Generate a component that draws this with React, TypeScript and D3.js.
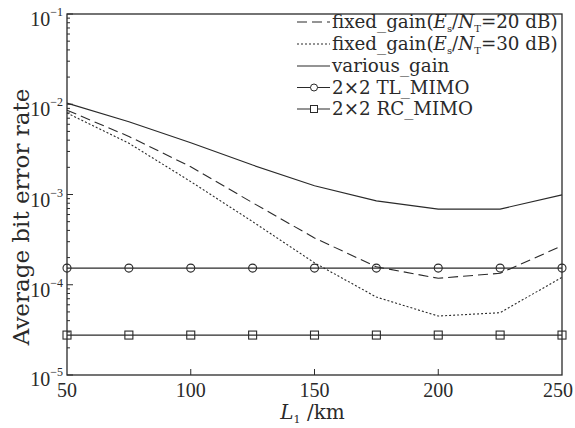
import React from "react";
import * as d3 from "d3";

const xValues = [50, 75, 100, 125, 150, 175, 200, 225, 250];
const fixed20 = [0.0086, 0.0044, 0.00203, 0.00081, 0.00033, 0.000158, 0.000118, 0.000134, 0.00027];
const fixed30 = [0.0080, 0.0037, 0.00139, 0.00050, 0.000175, 0.000073, 0.000045, 0.000049, 0.000121];
const various = [0.0103, 0.0064, 0.00375, 0.00212, 0.00125, 0.00085, 0.00069, 0.00069, 0.00099];
const tlMimo = [1.53e-4, 1.53e-4, 1.53e-4, 1.53e-4, 1.53e-4, 1.53e-4, 1.53e-4, 1.53e-4, 1.53e-4];
const rcMimo = [2.77e-5, 2.77e-5, 2.77e-5, 2.77e-5, 2.77e-5, 2.77e-5, 2.77e-5, 2.77e-5, 2.77e-5];
const xTicks = [50, 100, 150, 200, 250];
const yExps = [-1, -2, -3, -4, -5];

const W = 575, H = 428;
const M = { left: 67, right: 13, top: 14, bottom: 53 };
const FONT = "'Liberation Serif', 'DejaVu Serif', serif";
const FONT2 = "'DejaVu Serif', serif";
const INK = "#2a2a2a";

export default function App() {
  const x = d3.scaleLinear().domain([50, 250]).range([M.left, W - M.right]);
  const y = d3.scaleLog().domain([1e-5, 1e-1]).range([H - M.bottom, M.top]);
  const line = d3.line<number>().x((_, i) => x(xValues[i])).y((d) => y(d));

  const minor: number[] = [];
  for (let e = -5; e < -1; e++) for (let k = 2; k <= 9; k++) minor.push(k * Math.pow(10, e));

  const legendX = 297;
  const legendRows = [22, 44, 66, 87.5, 109];
  const legend = [
    { label: "fixed", dash: "10,5" },
    { label: "fixed30", dash: "2,2" },
    { label: "various_gain", dash: null },
    { label: "2×2 TL_MIMO", dash: null, marker: "circle" },
    { label: "2×2 RC_MIMO", dash: null, marker: "square" },
  ];
  const LFS = 18.3;

  return (
    <svg width={W} height={H} style={{ display: "block", position: "absolute", left: 0, top: 0, background: "#fff" }}>
      <rect x={0} y={0} width={W} height={H} fill="#fff" />
      {minor.map((v, i) => (
        <line key={"mn" + i} x1={x(50)} x2={x(50) + 3} y1={y(v)} y2={y(v)} stroke={INK} strokeWidth={1} />
      ))}
      {yExps.map((e) => (
        <g key={"yt" + e}>
          <line x1={x(50)} x2={x(50) + 6} y1={y(Math.pow(10, e))} y2={y(Math.pow(10, e))} stroke={INK} strokeWidth={1} />
          <text x={x(50) - 4} y={y(Math.pow(10, e)) + (e === -5 ? 11 : 12)} textAnchor="end" fontFamily={FONT} fontSize={20} fill={INK}>
            10<tspan dy={-10} fontSize={12}>−{-e}</tspan>
          </text>
        </g>
      ))}
      {xTicks.map((t) => (
        <g key={"xt" + t}>
          {t > 50 && t < 250 && (
            <line x1={x(t)} x2={x(t)} y1={y(1e-5)} y2={y(1e-5) - 6} stroke={INK} strokeWidth={1} />
          )}
          <text x={Math.min(x(t), W - 17)} y={y(1e-5) + 22} textAnchor="middle" fontFamily={FONT} fontSize={20} fill={INK}>
            {t}
          </text>
        </g>
      ))}
      <path d={line(fixed20) || ""} fill="none" stroke={INK} strokeWidth={1.1} strokeDasharray="10,5" />
      <path d={line(fixed30) || ""} fill="none" stroke={INK} strokeWidth={1.1} strokeDasharray="2,2" />
      <path d={line(various) || ""} fill="none" stroke={INK} strokeWidth={1.2} />
      <path d={line(tlMimo) || ""} fill="none" stroke={INK} strokeWidth={1.2} />
      <path d={line(rcMimo) || ""} fill="none" stroke={INK} strokeWidth={1.2} />
      {tlMimo.map((v, i) => (
        <circle key={"c" + i} cx={x(xValues[i])} cy={y(v)} r={4} fill="none" stroke={INK} strokeWidth={1.1} />
      ))}
      {rcMimo.map((v, i) => (
        <rect key={"s" + i} x={x(xValues[i]) - 4} y={y(v) - 4} width={8} height={8} fill="none" stroke={INK} strokeWidth={1.1} />
      ))}
      <rect x={M.left} y={M.top} width={W - M.left - M.right} height={H - M.top - M.bottom} fill="none" stroke={INK} strokeWidth={1.3} />
      {legend.map((l, i) => (
        <g key={"lg" + i}>
          <line x1={legendX} x2={legendX + 33} y1={legendRows[i]} y2={legendRows[i]} stroke={INK} strokeWidth={1.1} strokeDasharray={l.dash || undefined} />
          {l.marker === "circle" && <circle cx={legendX + 17} cy={legendRows[i]} r={3.5} fill="#fff" stroke={INK} strokeWidth={1} />}
          {l.marker === "square" && <rect x={legendX + 13.5} y={legendRows[i] - 3.5} width={7} height={7} fill="#fff" stroke={INK} strokeWidth={1} />}
        </g>
      ))}
      {[20, 30].map((db, i) => (
        <text key={"fg" + db} x={legendX + 35} y={legendRows[i] + 6} fontFamily={FONT2} fontSize={LFS} fill={INK}>
          fixed_gain(<tspan fontStyle="italic">E</tspan><tspan fontSize={10} dy={4}>s</tspan><tspan dy={-4}>/</tspan><tspan fontStyle="italic">N</tspan><tspan fontSize={10} dy={4}>T</tspan><tspan dy={-4}>={db} dB)</tspan>
        </text>
      ))}
      {legend.slice(2).map((l, i) => (
        <text key={"lt" + i} x={legendX + 35} y={legendRows[i + 2] + 6} fontFamily={FONT2} fontSize={LFS} fill={INK}>
          {l.label}
        </text>
      ))}
      <text transform={`translate(29, 217) rotate(-90)`} textAnchor="middle" fontFamily={FONT2} fontSize={23} fill={INK}>
        Average bit error rate
      </text>
      <text x={(M.left + W - M.right) / 2 - 2} y={H - 9} textAnchor="middle" fontFamily={FONT2} fontSize={20} fill={INK}>
        <tspan fontStyle="italic">L</tspan><tspan fontSize={11} dy={4}>1</tspan><tspan dy={-4}> /km</tspan>
      </text>
    </svg>
  );
}
